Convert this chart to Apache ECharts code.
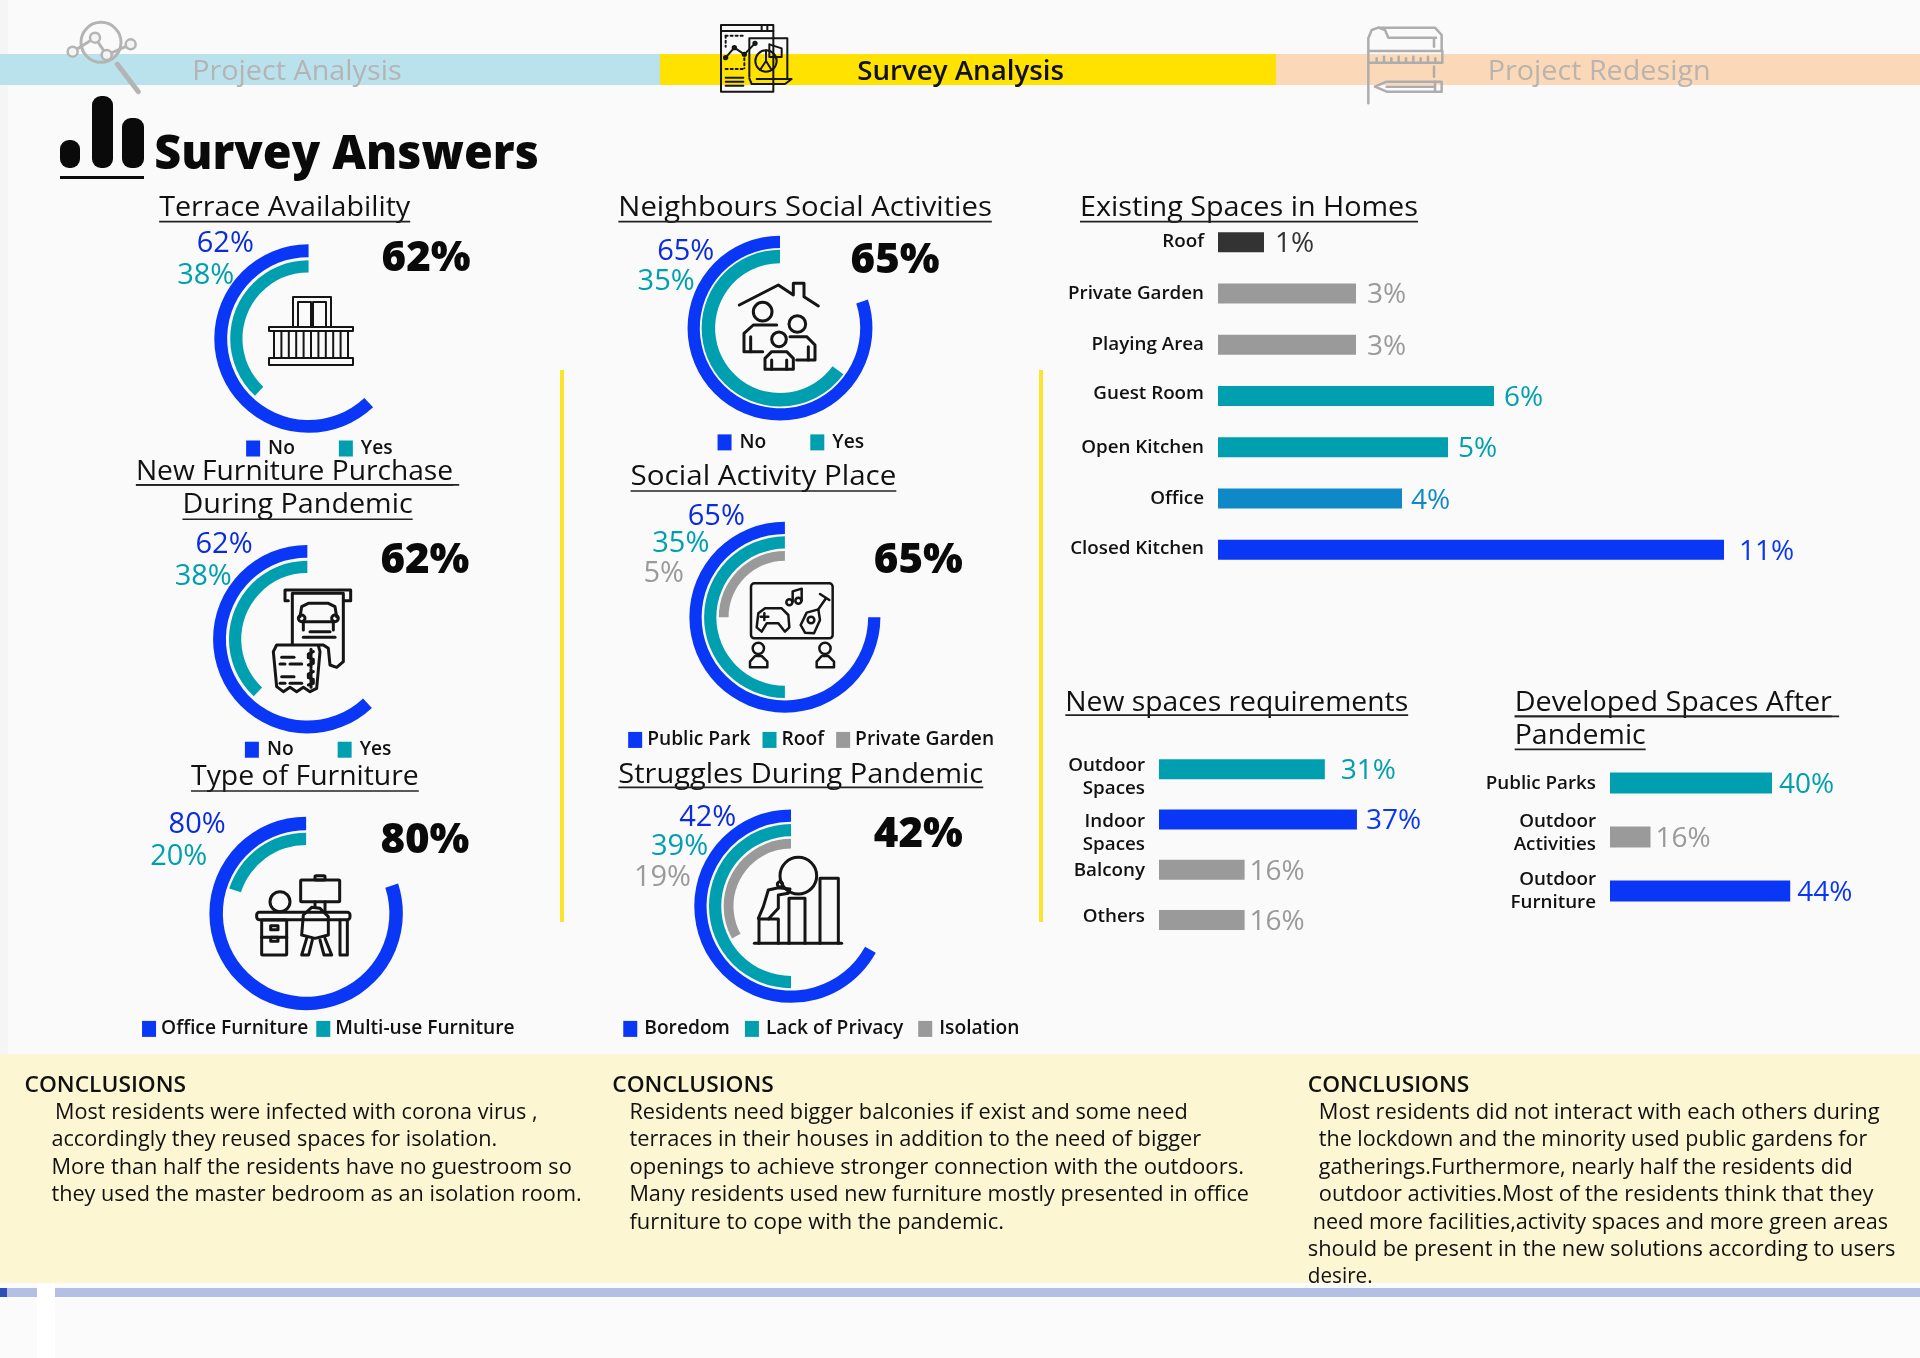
<!DOCTYPE html>
<html><head><meta charset="utf-8">
<style>html,body{margin:0;padding:0;background:#fafafa}#c{width:1920px;height:1358px}</style>
<script src="https://cdn.jsdelivr.net/npm/echarts@6/dist/echarts.min.js"></script>
</head><body><div id="c"></div>
<script>
// ---- colours
const BLUE='#0a37f5',TEAL='#009fb0',GREY='#9a9a9a',DARK='#333333',OFFICE='#0e88c6';
// ---- donut data: arc sweep (percent of a full turn), printed labels
const terraceNames=['No','Yes'],terraceArcs=[62,38],terraceLabels=['62%','38%'],terraceBig='62%';
const neighbourNames=['No','Yes'],neighbourArcs=[80,65],neighbourLabels=['65%','35%'],neighbourBig='65%';
const purchaseNames=['No','Yes'],purchaseArcs=[62,38],purchaseLabels=['62%','38%'],purchaseBig='62%';
const placeNames=['Public Park','Roof','Private Garden'],placeArcs=[75,50,25],placeLabels=['65%','35%','5%'],placeBig='65%';
const furnitureNames=['Office Furniture','Multi-use Furniture'],furnitureArcs=[80,20],furnitureLabels=['80%','20%'],furnitureBig='80%';
const struggleNames=['Boredom','Lack of Privacy','Isolation'],struggleArcs=[67,50,33],struggleLabels=['42%','39%','19%'],struggleBig='42%';
// ---- bar data
const existingCats=['Roof','Private Garden','Playing Area','Guest Room','Open Kitchen','Office','Closed Kitchen'];
const existingVals=[1,3,3,6,5,4,11];
const existingColors=[DARK,GREY,GREY,TEAL,TEAL,OFFICE,BLUE];
const existingLabels=['1%','3%','3%','6%','5%','4%','11%'];
const newCats=['Outdoor\nSpaces','Indoor\nSpaces','Balcony','Others'];
const newVals=[31,37,16,16];
const newColors=[TEAL,BLUE,GREY,GREY];
const newLabels=['31%','37%','16%','16%'];
const devCats=['Public Parks','Outdoor\nActivities','Outdoor\nFurniture'];
const devVals=[40,10,44.5];
const devColors=[TEAL,GREY,BLUE];
const devLabels=['40%','16%','44%'];
// ---- text
const concl1=['Most residents were infected with corona virus ,','accordingly they reused spaces for isolation.','More than half the residents have no guestroom so','they used the master bedroom as an isolation room.'];
const concl2=['Residents need bigger balconies if exist and some need','terraces in their houses in addition to the need of bigger','openings to achieve stronger connection with the outdoors.','Many residents used new furniture mostly presented in office','furniture to cope with the pandemic.'];
const concl3=['Most residents did not interact with each others during','the lockdown and the minority used public gardens for','gatherings.Furthermore, nearly half the residents did','outdoor activities.Most of the residents think that they','need more facilities,activity spaces and more green areas','should be present in the new solutions according to users','desire.'];

const S=1920/1568, FONT='"Open Sans"';
const mctx=document.createElement('canvas').getContext('2d');
const g=[];
// text helper: x,y in the 1568-wide layout, w = target width there
function T(s,x,y,o){o=o||{};
  const font=`${o.weight||400} ${o.size||22}px ${FONT}`;
  mctx.font=font;
  const e={type:'text',x:x*S,y:(y+1.8)*S,silent:true,z:o.z||5,style:{text:s,font,fill:o.fill||'#111',textAlign:o.align||'left',textVerticalAlign:'middle'}};
  if(o.w){e.scaleX=o.w*S/mctx.measureText(s).width;}
  g.push(e);
}
function Rect(x,y,w,h,fill,z){g.push({type:'rect',silent:true,z:z||0,shape:{x,y,width:w,height:h},style:{fill}});}
function Line(x1,y1,x2,y2,stroke,lw,z){g.push({type:'line',silent:true,z:z||5,shape:{x1,y1,x2,y2},style:{stroke,lineWidth:lw}});}
// icon helper: primitives given in zoom pixels, k=scale, (ox,oy) origin
function Icon(ox,oy,k,color,lw,prims){
  const st=(d)=>({stroke:color,lineWidth:lw,fill:'none',lineJoin:'round',lineCap:'round',lineDash:d||null});
  prims.forEach(p=>{
    const kind=p[0];
    if(kind==='L'){const pts=[];for(let i=1;i<p.length;i+=2)pts.push([ox+p[i]*k,oy+p[i+1]*k]);
      g.push({type:'polyline',silent:true,z:4,shape:{points:pts},style:st()});}
    else if(kind==='D'){const pts=[];for(let i=1;i<p.length;i+=2)pts.push([ox+p[i]*k,oy+p[i+1]*k]);
      g.push({type:'polyline',silent:true,z:4,shape:{points:pts},style:st([2,3])});}
    else if(kind==='C'){g.push({type:'circle',silent:true,z:4,shape:{cx:ox+p[1]*k,cy:oy+p[2]*k,r:p[3]*k},style:st()});}
    else if(kind==='R'){g.push({type:'rect',silent:true,z:4,shape:{x:ox+p[1]*k,y:oy+p[2]*k,width:p[3]*k,height:p[4]*k,r:(p[5]||0)*k},style:st()});}
  });
}
// ---- backdrop
Rect(0,0,1920,1358,'#fafafa');
Rect(0,0,8,1358,'#f5f5f5');
Rect(0,54,660,31,'#bae2ed',1);
Rect(660,54,616,31,'#ffe200',1);
Rect(1276,54,644,31,'#fbd8b7',1);
Rect(0,1054,1920,229,'#fcf7d2',1);
Rect(0,1283,1920,75,'#fbfbfb',1);
Rect(37,1283,18,75,'#ffffff',1);
Rect(0,1288,7,9,'#2c50b4',2);
Rect(7,1288,30,9,'#b3c0e4',2);
Rect(55,1288,1865,9,'#b3c0e4',2);
Rect(560,370,4,552,'#fde22e',2);
Rect(1039,370,4,552,'#fde22e',2);
// ---- header text
T('Project Analysis',157,57,{size:27,fill:'#b4b4b4',w:171});
T('Survey Analysis',700,57,{size:27,weight:600,fill:'#111',w:169});
T('Project Redesign',1215,57,{size:27,fill:'#b9b4ae',w:182});
T('Survey Answers',126,125,{size:48,weight:800,fill:'#0a0a0a',w:314});
// big bars icon
[[60,140,20,28],[92,96,21,72],[122,118,22,50]].forEach(b=>g.push({type:'rect',silent:true,z:4,shape:{x:b[0],y:b[1],width:b[2],height:b[3],r:9},style:{fill:'#0a0a0a'}}));
Rect(60,176,84,3,'#0a0a0a',4);
// ---- header icons
Icon(60,15,1/3,'#b4b4b4',3,[['C',123,82,60],['L',38,110,105,68,140,120,212,88]]);
[[38,110],[105,68],[140,120],[212,88]].forEach(c=>{g.push({type:'circle',silent:true,z:4,shape:{cx:60+c[0]/3,cy:15+c[1]/3,r:5},style:{fill:'#f4f4f4',stroke:'#b4b4b4',lineWidth:2.5}});});
Icon(60,15,1/3,'#b4b4b4',5,[['L',172,148,235,230]]);
Icon(710,15,1/3,'#151515',2,[['R',33,30,157,200],['L',33,48,190,48],['L',155,30,155,48],['L',172,30,172,48],
 ['D',47,62,105,62],['D',47,62,47,95],['L',47,128,73,98,103,118,135,85],['C',47,128,5],['C',73,98,5],['C',103,118,5],['C',135,85,5],
 ['D',47,162,100,162],['D',103,130,103,160],
 ['L',47,188,100,188],['L',47,200,100,200],['L',47,212,100,212],
 ['L',118,185,118,70,232,70,232,190],['L',118,190,125,207,225,207,245,192,140,192],
 ['C',168,138,32],['L',168,138,168,106],['L',168,138,150,165],['L',168,138,185,165],['L',178,88,215,100,215,126,178,126,178,88]]);
Icon(1360,15,1/3,'#adadad',2.5,[['L',25,105,25,70,35,45,55,38,75,45,85,68,228,68],['L',55,38,225,38,245,60,245,105],['L',25,145,25,265],
 ['R',25,108,222,35],['L',50,143,50,130],['L',72,143,72,125],['L',94,143,94,130],['L',116,143,116,125],['L',138,143,138,130],['L',160,143,160,125],['L',182,143,182,130],['L',204,143,204,125],['L',226,143,226,130],
 ['L',45,215,80,200,245,200,245,230,80,230,45,215],['L',225,200,225,230],['L',80,215,225,215],['L',222,70,222,95],['L',222,155,222,185]]);
// ---- donut icons
(function(){const pr=[['R',293,297,38,30],['R',298,302,13,25],['R',313,302,13,25],['R',269,327,84,4],['R',269,358,84,7]];
 for(let i=0;i<=10;i++){const x=274+i*7.4;pr.push(['L',x,331,x,358]);}
 Icon(0,0,1,'#151515',2,pr);})();
Icon(730,270,1/3,'#151515',3,[['L',28,105,145,45,190,75,190,40,222,40,222,80,265,108],['C',98,125,28],['C',202,162,25],['C',147,208,22],
 ['L',140,165,70,165,42,190,42,245,98,245],['L',62,245,62,200],['L',180,200,230,200,255,225,255,270,200,270],['L',235,270,235,230],
 ['L',105,298,105,265,125,245,170,245,190,265,190,298,105,298],['L',125,298,125,270],['L',170,298,170,270]]);
Icon(260,580,1/3,'#151515',3,[['L',85,62,75,62,75,30,272,30,272,62,250,62],['L',97,190,97,40,250,40,250,245,230,262,210,255,205,205,190,195,50,195,40,215,50,320,70,335,90,322,110,335,130,322,150,335,170,325,180,215,175,197],
 ['L',120,110,125,80,145,70,205,70,225,80,230,110],['C',125,115,10],['C',225,115,10],['L',135,125,215,125],['L',130,125,130,150],['L',220,125,220,150],['L',150,155,210,155],['L',130,172,225,172],
 ['L',65,232,102,232],['L',60,252,75,252],['L',90,252,125,252],['L',65,290,102,290],['L',60,310,75,310],['L',90,310,125,310],
 ['L',160,215,145,222,145,233,160,238,160,250,145,255],['L',153,208,153,262],['L',160,275,145,282,145,293,160,298,160,310,145,315],['L',153,268,153,322]]);
Icon(740,570,1/3,'#151515',2.5,[['R',33,40,245,165,10],['C',55,235,17],['C',255,235,17],['L',30,292,30,275,45,258,65,258,82,275,82,292,30,292],['L',230,292,230,275,245,258,265,258,282,275,282,292,230,292],
 ['L',50,172,55,130,75,115,125,115,145,135,148,172,135,185,115,160,80,160,65,185,50,172],['L',62,140,85,140],['L',73,130,73,150],
 ['L',158,95,158,64,185,56,185,92],['C',148,97,9],['C',175,92,9],
 ['L',182,165,200,128,235,118,240,150,222,190,195,188,182,165],['C',213,150,10],['L',235,118,258,85],['L',240,72,268,90]]);
Icon(250,860,1/3,'#151515',3,[['R',20,157,280,22,8],['R',35,180,75,105,3],['L',35,232,110,232],['R',62,197,22,12],['R',62,232,22,12],
 ['L',155,225,160,165,185,142,210,145,235,170,235,225,195,235,155,225],['L',170,235,155,285,176,285,187,240],['L',210,240,222,285,245,285,225,235],
 ['R',152,60,117,65,3],['R',195,47,30,13,3],['L',195,125,195,142],['L',225,125,225,155],['C',90,125,30],['L',270,180,270,285,292,285,292,180]]);
Icon(745,845,1/3,'#151515',3,[['L',28,295,290,295],['L',42,295,42,222,100,222,100,295],['L',132,295,132,160,180,160,180,295],['L',225,295,225,100,280,100,280,295],['C',160,92,55],['C',105,118,8],
 ['L',40,220,55,185,70,135,100,128,135,132,130,145,100,150,100,190,70,222]]);
// ---- section titles with underlines (x0,x1 in layout px)
function Title(s,x0,x1,y,uy){T(s,x0,y,{size:28,weight:500,w:x1-x0,fill:'#111'});Line(x0*S,uy*S,x1*S,uy*S,'#222',1.6);}
Title('Terrace Availability',130,335,168,181);
Title('Neighbours Social Activities',505,810,168,181);
Title('Existing Spaces in Homes',882,1158,168,181);
Title('New Furniture Purchase',111,370,384,396);Line(111*S,396*S,375*S,396*S,'#222',1.6);
Title('During Pandemic',149,337,411,424);
Title('Social Activity Place',515,732,388,401);
Title('Type of Furniture',156,342,633,646);
Title('Struggles During Pandemic',505,803,631,643);
Title('New spaces requirements',870,1150,572,584);
Title('Developed Spaces After',1237,1496,572,585);Line(1237*S,585*S,1502*S,585*S,'#222',1.6);
Title('Pandemic',1237,1344,599,612);
// ---- donuts
const series=[],legends=[];
const ringColors=[BLUE,TEAL,GREY];
function donut(names,arcs,labels,big,cx,cy,rings,lab,bigPos,leg){
  arcs.forEach((a,i)=>{series.push({type:'pie',silent:true,animation:false,center:[cx*S,cy*S],radius:[rings[i][0]*S,rings[i][1]*S],startAngle:90,clockwise:false,
    label:{show:false},labelLine:{show:false},emphasis:{disabled:true},
    data:[{value:a,name:names[i],itemStyle:{color:ringColors[i]}},{value:100-a,name:'rest',itemStyle:{color:'rgba(0,0,0,0)'}}]});
    T(labels[i],lab[i][0],lab[i][1],{size:29,fill:i===0?'#0a2be0':ringColors[i],align:'center'});
  });
  T(big,bigPos[0],bigPos[1],{size:42,weight:800,fill:'#0a0a0a',align:'center'});
  legends.push({data:names,left:leg[0]*S,top:((leg[1]+1.5)*S-11),itemWidth:14,itemHeight:16,itemGap:leg[2],icon:'rect',selectedMode:false,padding:0,textStyle:{fontFamily:FONT,fontWeight:600,fontSize:19.2,color:'#111',padding:[0,0,0,leg[3]||0]}});
}
const twoRings=[[66.5,77],[54,64]],threeRings=[[68,78],[56,66],[46,54]];
donut(terraceNames,terraceArcs,terraceLabels,terraceBig,252,276.5,twoRings,[[184,197],[168,223]],[348,210],[201,366,44,3]);
donut(neighbourNames,neighbourArcs,neighbourLabels,neighbourBig,637,268,[[65.5,75.5],[53,64]],[[560,204],[544,228]],[731,211],[586,361,44,3]);
donut(purchaseNames,purchaseArcs,purchaseLabels,purchaseBig,251,522,twoRings,[[183,443],[166,469]],[347,456],[200,612,44,3]);
donut(placeNames,placeArcs,placeLabels,placeBig,641,504,threeRings,[[585,420],[556,442],[542,467]],[750,456],[513,604,12,0]);
donut(furnitureNames,furnitureArcs,furnitureLabels,furnitureBig,250,746,[[68,79],[56,66]],[[161,672],[146,698]],[347,685],[116,840,8,0]);
donut(struggleNames,struggleArcs,struggleLabels,struggleBig,646,740,[[69,79],[57,67],[47,55]],[[578,666],[555,690],[541,715]],[750,680],[509,840,15,2]);
// ---- bars
const grids=[],xAxes=[],yAxes=[];
function bars(cats,vals,cols,labs,left,top,width,height,max,bw,gaps,shifts){
  const k=grids.length;
  grids.push({left,top,width,height,containLabel:false});
  xAxes.push({type:'value',gridIndex:k,min:0,max,show:false});
  const rich={t:{fontFamily:FONT,fontWeight:600,fontSize:18.8,color:'#111',lineHeight:23,align:'right'}};
  shifts.forEach(h=>{if(h)rich['p'+Math.abs(h)]={fontSize:1,lineHeight:Math.abs(h),height:Math.abs(h)};});
  yAxes.push({type:'category',gridIndex:k,inverse:true,data:cats,axisLine:{show:false},axisTick:{show:false},
    axisLabel:{interval:0,margin:14,align:'right',rich,
      formatter:(v,i)=>{const body=v.split('\n').map(l=>`{t|${l}}`).join('\n');const h=shifts[i];
        return h>0?`{p${h}| }\n${body}`:h<0?`${body}\n{p${-h}| }`:body;}}});
  series.push({type:'bar',xAxisIndex:k,yAxisIndex:k,silent:true,animation:false,barWidth:bw,z:3,
    data:vals.map((v,i)=>({value:v,itemStyle:{color:cols[i]},label:{show:true,position:'right',distance:gaps[i],offset:[0,2],formatter:labs[i],color:cols[i],fontFamily:FONT,fontSize:28}}))});
}
bars(existingCats,existingVals,existingColors,existingLabels,1218,216.5,552,359,12,20,[11,11,11,10,10,9,15],[0,0,0,-4,0,0,-2]);
bars(newCats,newVals,newColors,newLabels,1159,744,214,201,40,20,[16,9,5,5],[17,27,2,-7]);
bars(devCats,devVals,devColors,devLabels,1610,756,202.5,162,50,21,[7,5,7],[2,-7,0]);
// ---- conclusions
T('CONCLUSIONS',20,885,{size:21,weight:600,w:132});
T('CONCLUSIONS',500,885,{size:21,weight:600,w:132});
T('CONCLUSIONS',1068,885,{size:21,weight:600,w:132});
const ys=[907,929.5,952,974.5,997,1019,1041];
const fitW1=[394,364,425,433],x1=[45,42,42,42];
concl1.forEach((s,i)=>T(s,x1[i],ys[i],{size:21,fill:'#111',w:fitW1[i]}));
const fitW2=[456,467,502,506,306],x2=[514,514,514,514,514];
concl2.forEach((s,i)=>T(s,x2[i],ys[i],{size:21,fill:'#111',w:fitW2[i]}));
const fitW3=[458,448,436,453,470,480,53],x3=[1077,1077,1077,1077,1072,1068,1068];
concl3.forEach((s,i)=>T(s,x3[i],ys[i],{size:21,fill:'#111',w:fitW3[i]}));

const chart=echarts.init(document.getElementById('c'),null,{renderer:'canvas',width:1920,height:1358});
chart.setOption({animation:false,backgroundColor:'#fafafa',tooltip:{show:false},graphic:{elements:g},legend:legends,grid:grids,xAxis:xAxes,yAxis:yAxes,series});
</script></body></html>
